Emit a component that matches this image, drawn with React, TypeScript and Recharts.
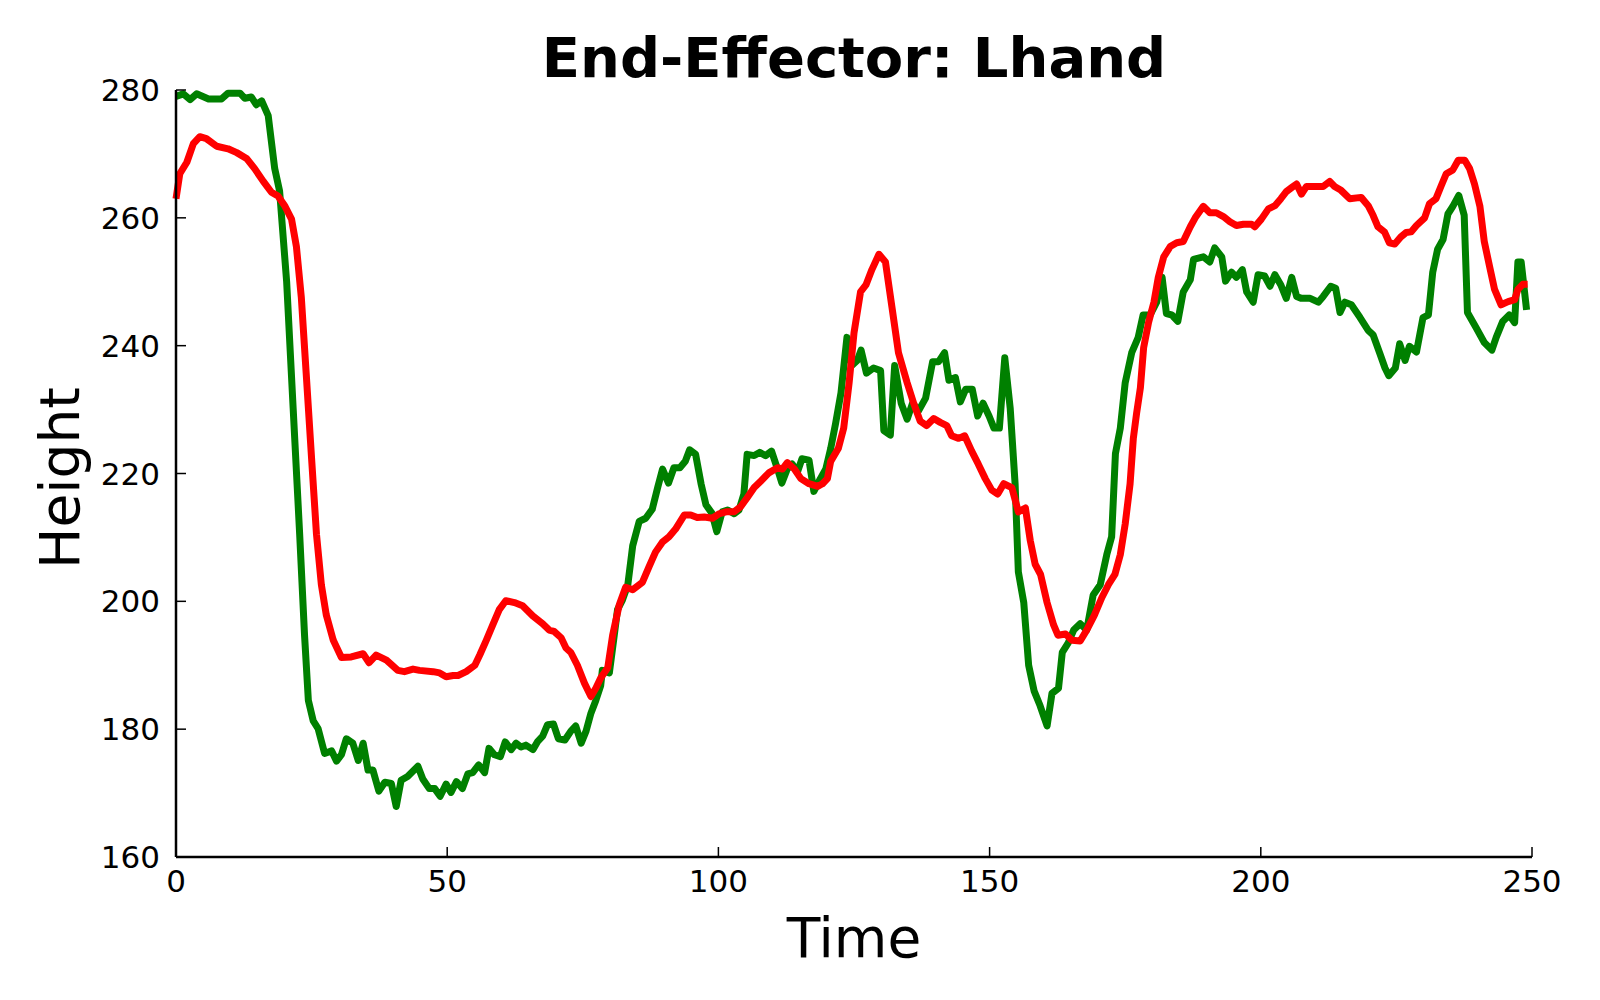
import React from 'react';
import { LineChart, Line, XAxis, YAxis } from 'recharts';

// time axis ticks and height axis ticks
const timeTicks = [0, 50, 100, 150, 200, 250];
const heightTicks = [160, 180, 200, 220, 240, 260, 280];

// green series
const greenTime = [
  0, 1.35, 2.6, 3.8, 6, 8.4, 9.6, 11.8, 12.7, 13.9, 14.8, 15.8, 17, 18.2, 19.1, 20.4, 21.6, 22.8, 23.7, 24.4,
  25.3, 26.2, 27.4, 28.7, 29.6, 30.5, 31.4, 32.6, 33.6, 34.5, 35.4, 36.3, 37.4, 38.5, 39.7, 40.6, 41.5, 42.7, 44.6, 45.5,
  46.7, 47.7, 48.7, 49.8, 50.7, 51.7, 52.8, 53.8, 54.7, 55.8, 56.9, 57.7, 58.7, 59.8, 60.7, 61.8, 62.7, 63.6, 64.5, 65.8,
  66.7, 67.6, 68.5, 69.6, 70.5, 71.7, 72.8, 73.7, 74.7, 75.6, 76.5, 77.4, 78.3, 78.6, 79.9, 80.8, 81.4, 82.3, 83.3, 84.2,
  85.4, 86.6, 87.8, 88.8, 89.7, 90.8, 91.8, 92.9, 93.9, 94.7, 95.8, 96.8, 97.7, 98.8, 99.7, 100.7, 101.7, 102.9, 103.8, 104.7,
  105.3, 106.6, 107.6, 108.7, 109.8, 110.9, 111.7, 112.7, 113.6, 114.6, 115.4, 116.7, 117.6, 118.8, 119.8, 120.7, 121.6, 122.6, 123.7, 124.6,
  125.6, 126.3, 127.3, 128.6, 129.9, 130.5, 131.7, 132.5, 133.7, 134.8, 135.8, 136.9, 138.2, 139.5, 140.6, 141.7, 142.5, 143.7, 144.6, 145.6,
  146.8, 147.8, 148.8, 149.9, 150.8, 151.8, 152.8, 153.8, 154.7, 155.3, 156.3, 157.2, 158.2, 159.3, 160.6, 161.5, 162.7, 163.4, 164.5, 165.5,
  166.7, 167.9, 169.1, 170.4, 171.6, 172.5, 173.2, 174.1, 175, 176.2, 177.4, 178.3, 179.6, 180.8, 181.8, 182.6, 183.6, 184.7, 185.7, 187,
  187.6, 189.4, 190.6, 191.5, 192.8, 193.5, 194.6, 195.5, 196.6, 197.4, 198.6, 199.5, 200.7, 201.7, 202.6, 203.7, 204.7, 205.7, 206.6, 207.5,
  209.1, 210.6, 211.5, 212.9, 213.8, 214.6, 215.5, 216.7, 218.3, 219.8, 220.7, 221.9, 222.9, 223.6, 224.8, 225.6, 226.6, 227.4, 228.7, 229.9,
  230.9, 231.7, 232.6, 233.6, 234.5, 235.4, 236.5, 237.5, 238.1, 239.7, 241.2, 242.6, 243.4, 244.6, 245.8, 246.8, 247.4, 248, 249,
];
const greenHeight = [
  279, 279.4, 278.5, 279.4, 278.6, 278.6, 279.5, 279.5, 278.7, 278.9, 277.7, 278.3, 276, 267.7, 264.2, 250, 230.2, 210.5, 194.7, 184.5,
  181.3, 180.1, 176.2, 176.6, 175, 176, 178.5, 177.8, 175.1, 177.8, 173.6, 173.6, 170.3, 171.7, 171.5, 167.9, 172, 172.6, 174.2, 172.2,
  170.7, 170.7, 169.5, 171.4, 170.1, 171.8, 170.7, 173, 173.2, 174.4, 173.2, 177, 176, 175.7, 178, 176.8, 177.8, 177.2, 177.5, 176.8,
  178.1, 178.9, 180.7, 180.8, 178.5, 178.3, 179.7, 180.5, 177.8, 179.7, 182.5, 184.5, 186.8, 189.2, 188.8, 194.7, 198.7, 200.2, 202.6, 208.7,
  212.5, 213, 214.4, 217.8, 220.7, 218.5, 220.9, 220.9, 221.9, 223.7, 223, 218.4, 215.1, 213.8, 210.9, 214, 214.3, 213.7, 214.3, 216.8,
  223, 222.8, 223.3, 222.8, 223.5, 220.7, 218.5, 220.7, 221.5, 220.3, 222.3, 222.1, 217.2, 219.2, 220.7, 223.9, 227.8, 232.6, 241.3, 236.9,
  237.7, 239.3, 235.7, 236.5, 236.1, 226.7, 226, 236.9, 231, 228.5, 231, 229.8, 231.8, 237.5, 237.5, 238.9, 234.6, 235, 231.2, 233.2,
  233.2, 229, 231, 229, 227.1, 227.1, 238.1, 230.2, 218.4, 204.6, 199.8, 190, 186, 183.7, 180.5, 185.6, 186.4, 192, 193.5, 195.5,
  196.5, 195.5, 201, 202.6, 207.3, 210.1, 223.1, 227.1, 234.2, 238.9, 241.3, 244.8, 244.8, 246.8, 250.7, 245, 244.8, 243.8, 248.4, 250.3,
  253.5, 253.9, 253.1, 255.3, 253.9, 250.1, 251.5, 250.7, 251.9, 248.4, 246.8, 251.1, 250.9, 249.3, 251.1, 249.5, 247.4, 250.7, 247.7, 247.4,
  247.4, 246.8, 247.7, 249.3, 249, 245.2, 246.8, 246.4, 244.4, 242.4, 241.7, 238.9, 236.5, 235.3, 236.5, 240.3, 237.7, 239.9, 239, 244.4,
  244.8, 251.5, 255.1, 256.6, 260.6, 261.8, 263.5, 260.4, 245.2, 242.8, 240.5, 239.3, 241.3, 243.8, 244.8, 243.6, 253.1, 253.1, 245.6,
];

// red series
const redTime = [
  0, 0.7, 2, 3.2, 4.4, 5.6, 7.5, 9.6, 11.2, 13, 14.5, 16.1, 17.6, 18.8, 20.1, 21.3, 22.2, 23.1, 24, 25,
  25.9, 26.8, 27.7, 29, 30.5, 32.3, 34.5, 35.6, 36.9, 38.8, 40.9, 42.1, 43.7, 44.9, 47.4, 48.6, 49.8, 51.1, 52, 53.5,
  55.1, 56, 57.2, 58.4, 59.6, 60.8, 62.4, 63.9, 65.8, 67.6, 68.8, 69.7, 71, 71.9, 72.8, 74, 75.3, 76.5, 77.4, 78.3,
  79.6, 80.5, 81.7, 82.9, 84.2, 86, 87.2, 88.4, 89.7, 90.9, 92.1, 93.7, 94.9, 96.1, 97.4, 98.9, 100.1, 101.4, 102.9, 104.1,
  105.3, 106.6, 107.8, 109.3, 110.9, 111.8, 112.7, 114, 115.2, 116.7, 118.3, 119.2, 120.1, 120.7, 122.1, 123.1, 124.1, 125, 126.2, 127.2,
  128.3, 129.6, 130.8, 132, 133.2, 134.8, 136, 137.2, 138.4, 139.7, 140.9, 142.1, 143, 144.3, 145.4, 146.7, 147.9, 149.2, 150.4, 151.5,
  152.6, 154.1, 155.3, 156.6, 157.5, 158.4, 159.4, 160.6, 161.8, 162.6, 164, 165.2, 166.7, 167.9, 169.3, 170.7, 171.9, 173.1, 174.1, 175,
  175.9, 176.5, 177.1, 177.8, 178.4, 179.3, 180.3, 181.1, 182.1, 183.3, 184.5, 185.7, 187, 187.9, 189.4, 190.6, 191.8, 193.1, 194.3, 195.5,
  196.8, 198.3, 198.9, 200.1, 201.4, 202.6, 203.7, 204.7, 205.8, 206.6, 207.5, 208.4, 210.6, 211.5, 212.7, 213.6, 214.8, 216.4, 218.5, 219.8,
  220.7, 221.6, 222.8, 223.7, 224.7, 225.8, 226.8, 227.7, 228.7, 230.2, 231.1, 232.3, 233.3, 234.2, 235.4, 236.4, 237.6, 238.5, 239.4, 240.4,
  241.2, 242.2, 243.1, 244.3, 245.6, 246.8, 247.4, 248.3, 249.2,
];
const redHeight = [
  263, 266.9, 268.7, 271.6, 272.7, 272.4, 271.2, 270.8, 270.2, 269.3, 267.7, 265.7, 264, 263.4, 261.8, 259.8, 255.5, 247.6, 235.7, 222.3,
  210.5, 202.6, 197.9, 193.9, 191.2, 191.3, 191.8, 190.4, 191.6, 190.8, 189.2, 189, 189.4, 189.2, 189, 188.8, 188.2, 188.4, 188.4, 189,
  190, 191.6, 193.9, 196.3, 198.7, 200.1, 199.8, 199.3, 197.7, 196.5, 195.5, 195.3, 194.3, 192.7, 192, 190, 187.2, 185.1, 186.4, 188,
  189.6, 194.7, 199.4, 202.2, 201.8, 203, 205.4, 207.7, 209.3, 210.1, 211.3, 213.5, 213.5, 213.1, 213.2, 213, 213.7, 214, 214, 214.8,
  216.2, 217.8, 218.8, 220.1, 220.9, 220.7, 221.7, 220.7, 219.2, 218.4, 218, 218.4, 219.2, 221.9, 223.9, 227.1, 234.2, 242, 248.4, 249.5,
  251.9, 254.3, 253.1, 246, 238.9, 234.2, 231, 228.2, 227.5, 228.6, 228, 227.5, 225.9, 225.5, 225.9, 223.5, 221.5, 219.2, 217.4, 216.8,
  218.4, 217.8, 214, 214.6, 209.5, 205.8, 204.2, 199.8, 196.3, 194.7, 194.9, 193.9, 193.8, 195.5, 197.8, 200.6, 202.6, 204.2, 207.3, 212.1,
  218.4, 225.5, 229.4, 233.4, 239.7, 243.6, 246.8, 250.7, 253.9, 255.5, 256.1, 256.3, 258.6, 260, 261.8, 260.8, 260.8, 260.2, 259.4, 258.8,
  259, 259, 258.6, 259.8, 261.4, 261.9, 263, 264.1, 264.8, 265.3, 263.7, 264.9, 264.9, 264.9, 265.7, 264.9, 264.3, 263, 263.2, 261.9,
  260.4, 258.6, 257.8, 256.1, 255.9, 257, 257.7, 257.8, 258.8, 260, 262.2, 263, 265.1, 266.9, 267.5, 269, 269, 267.7, 265.3, 261.8,
  256.3, 252.3, 248.8, 246.4, 246.9, 247.2, 248.8, 249.6, 249.6,
];

const greenData = greenTime.map((t, i) => ({ t, v: greenHeight[i] }));
const redData = redTime.map((t, i) => ({ t, v: redHeight[i] }));

const FONT = '"DejaVu Sans", sans-serif';
const tickStyle = { fill: '#000', fontSize: 31, fontFamily: FONT };

const App = () => {
  return (
    <div style={{ position: 'relative', width: 1584, height: 984 }}>
      <LineChart width={1584} height={984} margin={{ top: 82, right: 60, left: 88, bottom: 75 }}>
        <XAxis
          dataKey="t"
          type="number"
          domain={[0, 250]}
          ticks={timeTicks}
          interval={0}
          height={60}
          tick={tickStyle}
          tickSize={-10}
          tickMargin={23}
          axisLine={{ stroke: '#000', strokeWidth: 2.5 }}
          tickLine={{ stroke: '#000', strokeWidth: 1.5 }}
        />
        <YAxis
          type="number"
          domain={[160, 280]}
          ticks={heightTicks}
          interval={0}
          width={80}
          tick={tickStyle}
          tickSize={-10}
          tickMargin={26}
          axisLine={{ stroke: '#000', strokeWidth: 2.5 }}
          tickLine={{ stroke: '#000', strokeWidth: 1.5 }}
        />
        <Line data={greenData} dataKey="v" type="linear" stroke="#008000" strokeWidth={7}
          strokeLinejoin="round" dot={false} activeDot={false} isAnimationActive={false} />
        <Line data={redData} dataKey="v" type="linear" stroke="#ff0000" strokeWidth={7}
          strokeLinejoin="round" dot={false} activeDot={false} isAnimationActive={false} />
      </LineChart>
      <svg width={1584} height={984} style={{ position: 'absolute', left: 0, top: 0, pointerEvents: 'none' }}>
        <text x={846} y={69} textAnchor="middle" fontFamily={FONT} fontWeight="bold" fontSize={56} fill="#000">
          End-Effector: Lhand
        </text>
        <text x={846} y={949} textAnchor="middle" fontFamily={FONT} fontSize={55} fill="#000">
          Time
        </text>
        <text x={71} y={470} textAnchor="middle" fontFamily={FONT} fontSize={55} fill="#000"
          transform="rotate(-90, 71, 470)">
          Height
        </text>
      </svg>
    </div>
  );
};

export default App;
